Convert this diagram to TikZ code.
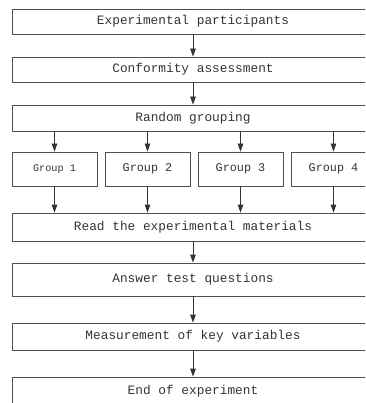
\documentclass[tikz,border=0pt]{standalone}
\usepackage{fontspec}
\setmonofont{Liberation Mono}
\usetikzlibrary{arrows.meta}
\definecolor{linec}{HTML}{505050}
\definecolor{textc}{HTML}{333333}
\tikzset{
  mainbox/.style={draw=linec, line width=0.8pt, rectangle, inner sep=0pt, minimum width=362pt, text=textc, font=\ttfamily\fontsize{12.8}{14}\selectfont},
  groupbox/.style={draw=linec, line width=0.8pt, rectangle, inner sep=0pt, minimum width=85pt, minimum height=34pt, text=textc, font=\ttfamily\fontsize{11.8}{13}\selectfont},
  smallgroup/.style={font=\ttfamily\fontsize{10.2}{12}\selectfont},
  conn/.style={draw=black!80, line width=0.8pt, -{Triangle[length=8pt,width=5.5pt]}}
}
\begin{document}
\begin{tikzpicture}[x=1pt,y=1pt]
\useasboundingbox (0,0) rectangle (365,-403);
\clip (0,0) rectangle (365,-403);
\node[mainbox, minimum height=25pt] (n1) at (193,-21.5) {Experimental participants};
\node[mainbox, minimum height=25pt] (n2) at (193,-69.5) {Conformity assessment};
\node[mainbox, minimum height=26pt] (n3) at (193,-118) {Random grouping};
\node[groupbox, smallgroup] (g1) at (54.5,-169) {Group 1};
\node[groupbox] (g2) at (147.5,-169) {Group 2};
\node[groupbox] (g3) at (240.5,-169) {Group 3};
\node[groupbox] (g4) at (333.5,-169) {Group 4};
\node[mainbox, minimum height=28pt] (n4) at (193,-227) {Read the experimental materials};
\node[mainbox, minimum height=33pt] (n5) at (193,-279.5) {Answer test questions};
\node[mainbox, minimum height=27pt] (n6) at (193,-336.5) {Measurement of key variables};
\node[mainbox, minimum height=28pt] (n7) at (193,-391) {End of experiment};
\draw[conn] (n1) -- (n2);
\draw[conn] (n2) -- (n3);
\foreach \g in {g1,g2,g3,g4}{
  \draw[conn] (n3.south -| \g) -- (\g);
  \draw[conn] (\g) -- (n4.north -| \g);
}
\draw[conn] (n4) -- (n5);
\draw[conn] (n5) -- (n6);
\draw[conn] (n6) -- (n7);
\end{tikzpicture}
\end{document}
